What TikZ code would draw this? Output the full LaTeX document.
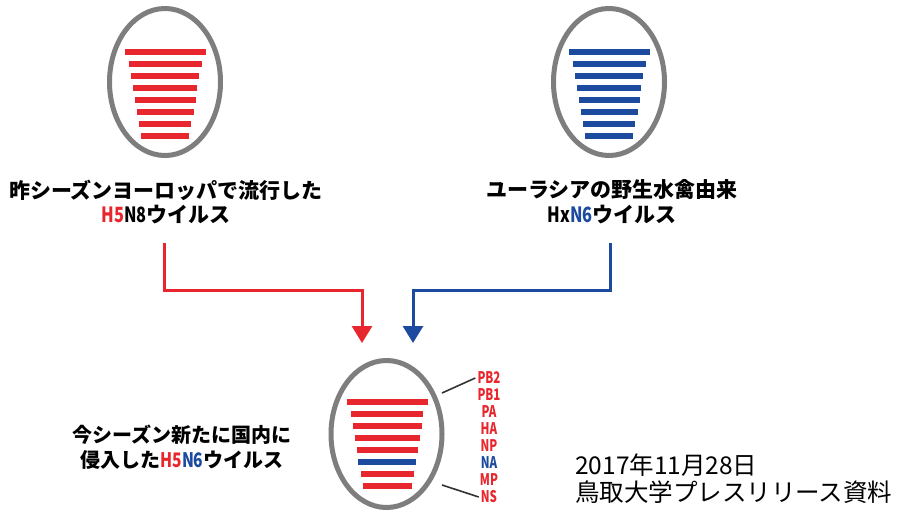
\documentclass[tikz,border=0pt]{standalone}
\usepackage{fontspec}
\usetikzlibrary{shapes.geometric,arrows.meta}
\setmainfont{Noto Sans CJK JP}
\newfontfamily\narrowfont{Noto Sans CJK JP}[FakeStretch=0.78]
\newfontfamily\labelfont{Noto Sans CJK JP}[FakeStretch=0.72]
\definecolor{flured}{HTML}{E8262D}
\definecolor{flublue}{HTML}{1C4A9E}
\definecolor{shell}{HTML}{7E7E7E}
\newcommand\lat[1]{{\narrowfont #1}}

\tikzset{
  virion/.style={ellipse, draw=shell, line width=5pt, minimum width=111pt,
    minimum height=147pt, inner sep=0pt},
  caption/.style={font=\bfseries\fontsize{21}{25}\selectfont, inner sep=0pt},
  caption2/.style={font=\bfseries\fontsize{20}{25}\selectfont, inner sep=0pt},
  credit/.style={font=\fontsize{24.5}{27}\selectfont, inner sep=0pt, anchor=west},
  flow/.style={line width=3pt, -{Triangle[width=20pt,length=17pt]}},
  seglabel/.style={font=\labelfont\bfseries\fontsize{16}{16}\selectfont, inner sep=0pt},
  leader/.style={line width=1.6pt, draw=black!80}
}

\begin{document}
\begin{tikzpicture}[x=1pt,y=-1pt]
\useasboundingbox (0,0) rectangle (907,513);

% --- parent virus 1: H5N8 (red segments)
\node[virion] (v1) at (165,82) {};
\foreach \w [count=\i from 0] in {81,73,68,64,61,57,52,48}
  \fill[flured] (165-\w/2,52+12*\i-3) rectangle ++(\w,6);
\node[caption] (v1a) at (166,190) {昨シーズンヨーロッパで流行した};
\node[caption] (v1b) at (166,215) {\lat{\color{flured}H5}\lat{N8}ウイルス};

% --- parent virus 2: HxN6 (blue segments)
\node[virion] (v2) at (609,82) {};
\foreach \w [count=\i from 0] in {81,73,68,64,61,57,52,48}
  \fill[flublue] (609-\w/2,52+12*\i-3) rectangle ++(\w,6);
\node[caption] (v2a) at (612,190) {ユーラシアの野生水禽由来};
\node[caption] (v2b) at (612,215) {\lat{Hx}\lat{\color{flublue}N6}ウイルス};

% --- reassortant: H5N6
\node[virion] (v3) at (386.5,434) {};
\foreach \w [count=\i from 0] in {81,72,69,65,61,58,53,49}{
  \ifnum\i=5 \def\segcol{flublue}\else\def\segcol{flured}\fi
  \fill[\segcol] (387-\w/2,402+12*\i-3) rectangle ++(\w,6);
}
\node[caption2] (v3a) at (182,435) {今シーズン新たに国内に};
\node[caption2] (v3b) at (182,460) {侵入した\lat{\color{flured}H5}\lat{\color{flublue}N6}ウイルス};

% segment names
\foreach \s [count=\i from 0] in {PB2,PB1,PA,HA,NP,NA,MP,NS}{
  \ifnum\i=5 \def\segcol{flublue}\else\def\segcol{flured}\fi
  \node[seglabel, text=\segcol] (s\i) at (489,378+17*\i) {\s};
}
\coordinate (lt) at (442,393);
\coordinate (lb) at (442,485);
\draw[leader] (lt) -- ([xshift=-2pt]s0.west);
\draw[leader] (lb) -- ([xshift=-2pt]s7.west);

% --- flows into the reassortant
\coordinate (rs) at (164,243);
\coordinate (rk) at (362,290);
\coordinate (re) at (362,343);
\draw[flow, flured] (rs) |- (rk) -- (re);
\coordinate (bs) at (610,243);
\coordinate (bk) at (413,290);
\coordinate (be) at (413,343);
\draw[flow, flublue] (bs) |- (bk) -- (be);

% --- source
\node[credit] (d1) at (575,465) {2017年11月28日};
\node[credit] (d2) at (575,492) {鳥取大学プレスリリース資料};
\end{tikzpicture}
\end{document}
